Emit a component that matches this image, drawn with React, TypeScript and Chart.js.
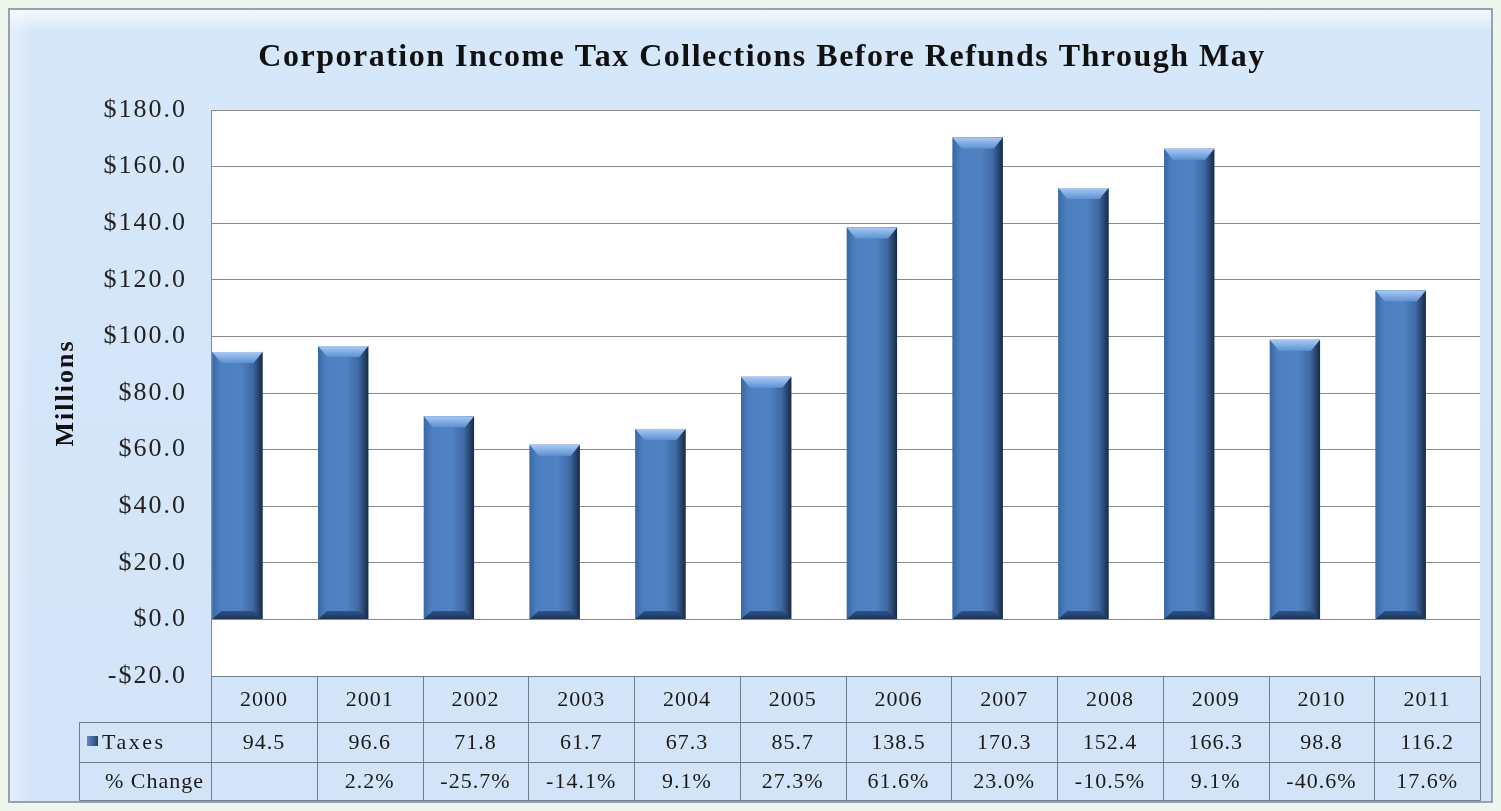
import React, { useEffect, useRef } from 'react';
import { Chart, registerables } from 'chart.js';

Chart.register(...registerables);

const chartTitle = 'Corporation Income Tax Collections Before Refunds Through May';
const yAxisTitle = 'Millions';
const years = ['2000', '2001', '2002', '2003', '2004', '2005', '2006', '2007', '2008', '2009', '2010', '2011'];
const taxes = [94.5, 96.6, 71.8, 61.7, 67.3, 85.7, 138.5, 170.3, 152.4, 166.3, 98.8, 116.2];
const pctChange: (number | null)[] = [null, 2.2, -25.7, -14.1, 9.1, 27.3, 61.6, 23.0, -10.5, 9.1, -40.6, 17.6];
const rowLabels = ['Taxes', '% Change'];
const yMin = -20;
const yMax = 180;
const yStep = 20;

const SERIF = '"Liberation Serif", "Times New Roman", serif';

const backdropPlugin = {
  id: 'backdrop',
  beforeDraw(chart: any) {
    const ctx: CanvasRenderingContext2D = chart.ctx;
    const ca = chart.chartArea;
    ctx.save();
    ctx.fillStyle = '#ffffff';
    ctx.fillRect(ca.left, ca.top, ca.right - ca.left, ca.bottom - ca.top);
    ctx.restore();
    (ctx as any).letterSpacing = '2px';
  },
};

const titlePlugin = {
  id: 'customTitle',
  afterDraw(chart: any) {
    const ctx: CanvasRenderingContext2D = chart.ctx;
    ctx.save();
    (ctx as any).letterSpacing = '1.5px';
    ctx.font = `bold 32px ${SERIF}`;
    ctx.fillStyle = '#111111';
    ctx.textAlign = 'center';
    ctx.textBaseline = 'middle';
    ctx.fillText(chartTitle, 752, 48);
    ctx.restore();
  },
};

const bevelPlugin = {
  id: 'bevel',
  afterDatasetsDraw(chart: any) {
    const meta = chart.getDatasetMeta(0);
    const ctx: CanvasRenderingContext2D = chart.ctx;
    ctx.save();
    meta.data.forEach((el: any) => {
      const { x, y, base, width } = el.getProps(['x', 'y', 'base', 'width'], true);
      const x0 = x - width / 2;
      const x1 = x + width / 2;
      const top = Math.min(y, base);
      const bot = Math.max(y, base);
      const b = 11;
      const s = 9;
      const g = ctx.createLinearGradient(x0, 0, x1, 0);
      g.addColorStop(0, '#3a67a4');
      g.addColorStop(0.15, '#4c7fc0');
      g.addColorStop(0.55, '#5183c3');
      g.addColorStop(0.8, '#3f6aa5');
      g.addColorStop(1, '#172a47');
      ctx.fillStyle = g;
      ctx.fillRect(x0, top, width, bot - top);
      // top bevel
      const gt = ctx.createLinearGradient(0, top, 0, top + b);
      gt.addColorStop(0, '#a8caf3');
      gt.addColorStop(1, '#5d91d2');
      ctx.beginPath();
      ctx.moveTo(x0, top);
      ctx.lineTo(x1, top);
      ctx.lineTo(x1 - s, top + b);
      ctx.lineTo(x0 + s, top + b);
      ctx.closePath();
      ctx.fillStyle = gt;
      ctx.fill();
      // bottom bevel
      const gb = ctx.createLinearGradient(0, bot - 8, 0, bot);
      gb.addColorStop(0, '#2f548a');
      gb.addColorStop(1, '#1d3557');
      ctx.beginPath();
      ctx.moveTo(x0, bot);
      ctx.lineTo(x1, bot);
      ctx.lineTo(x1 - s, bot - 8);
      ctx.lineTo(x0 + s, bot - 8);
      ctx.closePath();
      ctx.fillStyle = gb;
      ctx.fill();
    });
    ctx.restore();
  },
};

const tablePlugin = {
  id: 'dataTable',
  afterDraw(chart: any) {
    const ctx: CanvasRenderingContext2D = chart.ctx;
    const ca = chart.chartArea;
    const xs = chart.scales.x;
    const n = years.length;
    const cw = (ca.right - ca.left) / n;
    const r0 = ca.bottom;
    const r1 = r0 + 46;
    const r2 = r1 + 40;
    const r3 = r2 + 38;
    const labelLeft = 69;
    ctx.save();
    ctx.strokeStyle = '#6f7d8d';
    ctx.lineWidth = 1;
    const line = (ax: number, ay: number, bx: number, by: number) => {
      ctx.beginPath();
      ctx.moveTo(Math.round(ax) + 0.5, Math.round(ay) + 0.5);
      ctx.lineTo(Math.round(bx) + 0.5, Math.round(by) + 0.5);
      ctx.stroke();
    };
    line(ca.left, r0, ca.right, r0);
    line(labelLeft, r1, ca.right, r1);
    line(labelLeft, r2, ca.right, r2);
    line(labelLeft, r3, ca.right, r3);
    line(labelLeft, r1, labelLeft, r3);
    for (let i = 0; i < n; i++) {
      const cx = xs.getPixelForValue(i);
      line(cx - cw / 2, r0, cx - cw / 2, r3);
      if (i === n - 1) line(cx + cw / 2, r0, cx + cw / 2, r3);
    }
    ctx.fillStyle = '#1a1a1a';
    ctx.font = `22px ${SERIF}`;
    ctx.textAlign = 'center';
    ctx.textBaseline = 'middle';
    (ctx as any).letterSpacing = '1px';
    years.forEach((yr, i) => {
      const cx = xs.getPixelForValue(i);
      ctx.fillText(yr, cx, (r0 + r1) / 2 + 1);
      ctx.fillText(taxes[i].toFixed(1), cx, (r1 + r2) / 2 + 1);
      const p = pctChange[i];
      if (p !== null) ctx.fillText(p.toFixed(1) + '%', cx, (r2 + r3) / 2 + 1);
    });
    // row labels
    const sq = ctx.createLinearGradient(77, 0, 88, 0);
    sq.addColorStop(0, '#5a8ccb');
    sq.addColorStop(1, '#27446e');
    ctx.fillStyle = sq;
    ctx.fillRect(77, (r1 + r2) / 2 - 6, 11, 10);
    ctx.fillStyle = '#1a1a1a';
    ctx.textAlign = 'left';
    (ctx as any).letterSpacing = '2.5px';
    ctx.fillText(rowLabels[0], 92, (r1 + r2) / 2 + 1);
    (ctx as any).letterSpacing = '1px';
    ctx.fillText(rowLabels[1], 95, (r2 + r3) / 2 + 1);
    ctx.restore();
  },
};

export default function App() {
  const ref = useRef<HTMLCanvasElement | null>(null);

  useEffect(() => {
    document.body.style.background = '#eef6ee';
    if (!ref.current) return;
    const chart = new Chart(ref.current, {
      type: 'bar',
      data: {
        labels: years,
        datasets: [
          {
            label: 'Taxes',
            data: taxes,
            backgroundColor: '#4f81bd',
            borderWidth: 0,
            barPercentage: 0.95,
            categoryPercentage: 1,
          },
          {
            label: 'spacer',
            data: years.map(() => null),
            backgroundColor: 'rgba(0,0,0,0)',
            barPercentage: 0.95,
            categoryPercentage: 1,
          },
        ],
      },
      options: {
        responsive: false,
        animation: false,
        layout: { padding: { left: 0, right: 11, top: 100, bottom: 125 } },
        plugins: {
          legend: { display: false },
          tooltip: { enabled: false },
          title: { display: false },
        },
        scales: {
          x: {
            display: false,
            grid: { display: false },
          },
          y: {
            min: yMin,
            max: yMax,
            afterFit(scale: any) {
              scale.width = 201;
            },
            ticks: {
              stepSize: yStep,
              padding: 24,
              color: '#222222',
              font: { family: SERIF, size: 26 },
              callback: (v: any) => (Number(v) < 0 ? '-$' : '$') + Math.abs(Number(v)).toFixed(1),
            },
            grid: { color: '#8a8a8a', lineWidth: 1, drawTicks: false },
            border: { color: '#8a8a8a' },
            title: {
              display: true,
              text: yAxisTitle,
              color: '#111111',
              font: { family: SERIF, size: 26, weight: 'bold' },
              padding: { top: 41, bottom: 0 },
            },
          },
        },
      },
      plugins: [backdropPlugin, bevelPlugin, tablePlugin, titlePlugin],
    });
    return () => chart.destroy();
  }, []);

  return (
    <div
      style={{
        width: 1485,
        height: 795,
        boxSizing: 'border-box',
        border: '2px solid #98a2ac',
        background: 'linear-gradient(to bottom, #f4f8fd 0px, #d6e7fa 22px, #d3e4f8 100%)',
        boxShadow: '3px 3px 5px rgba(60,70,80,0.45)',
      }}
    >
      <div
        style={{
          position: 'relative',
          width: 1481,
          height: 791,
          background:
            'linear-gradient(to right, rgba(255,255,255,0.35) 0px, rgba(255,255,255,0) 22px)',
        }}
      >
        <canvas ref={ref} width={1481} height={791} style={{ display: 'block' }} />
      </div>
    </div>
  );
}
